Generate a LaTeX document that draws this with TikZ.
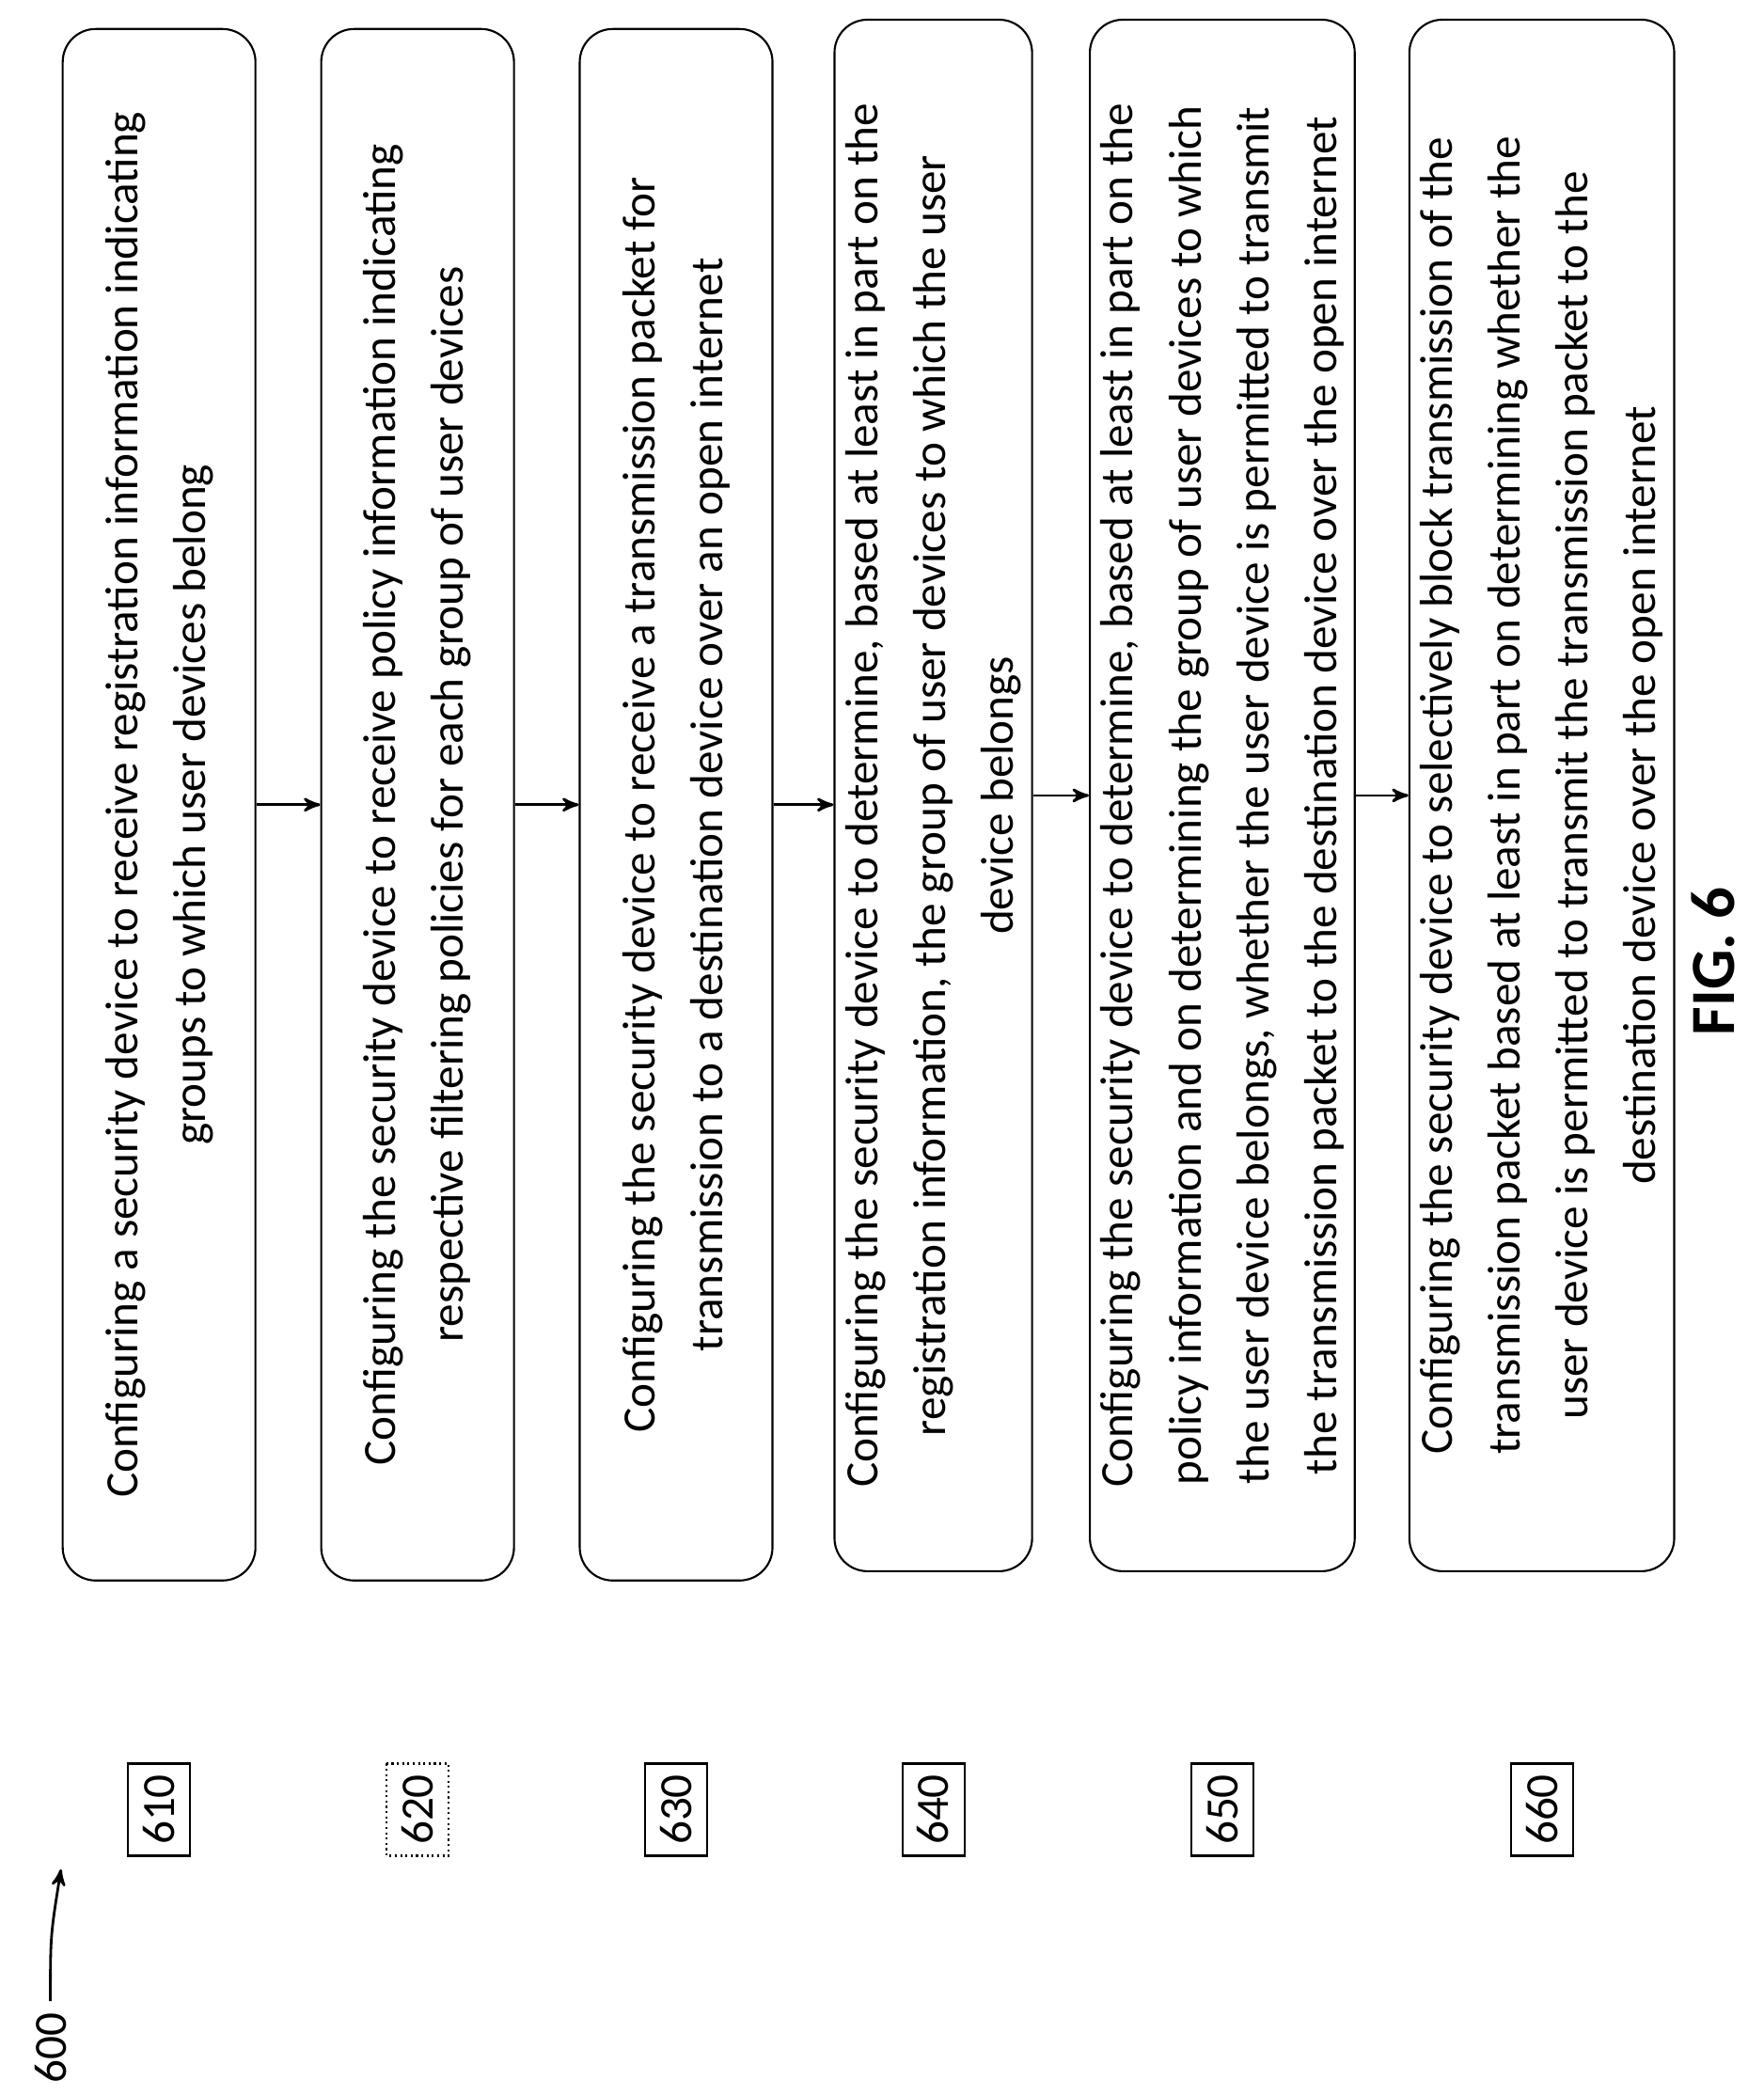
\documentclass[tikz,border=0pt]{standalone}
\usepackage{fontspec}
\setmainfont{Carlito}
\usetikzlibrary{arrows,positioning}

\begin{document}
\begin{tikzpicture}[x=0.0141cm,y=-0.0141cm,>=stealth',semithick]
      \tikzset{stepbox/.style={draw,rounded corners=10pt,rotate=90,align=center,
                 minimum width=16.5cm,font=\fontsize{14}{20.5}\selectfont},
               refbox/.style={draw,rotate=90,minimum width=0.98cm,minimum height=0.66cm,
                 inner sep=1pt,font=\fontsize{14}{16}\selectfont}}
      \useasboundingbox (0,0) rectangle (1330,1581);

      \node[stepbox,minimum height=2.05cm] (B1) at (120,607)
        {Configuring a security device to receive registration information indicating\\groups to which user devices belong};
      \node[stepbox,minimum height=2.05cm] (B2) at (315,607)
        {Configuring the security device to receive policy information indicating\\respective filtering policies for each group of user devices};
      \node[stepbox,minimum height=2.05cm] (B3) at (510,607)
        {Configuring the security device to receive a transmission packet for\\transmission to a destination device over an open internet};
      \node[stepbox,minimum height=2.08cm] (B4) at (704,600)
        {Configuring the security device to determine, based at least in part on the\\registration information, the group of user devices to which the user\\device belongs};
      \node[stepbox,minimum height=2.77cm] (B5) at (922,600)
        {Configuring the security device to determine, based at least in part on the\\policy information and on determining the group of user devices to which\\the user device belongs, whether the user device is permitted to transmit\\the transmission packet to the destination device over the open internet};
      \node[stepbox,minimum height=2.78cm] (B6) at (1163,600)
        {Configuring the security device to selectively block transmission of the\\transmission packet based at least in part on determining whether the\\user device is permitted to transmit the transmission packet to the\\destination device over the open internet};

      \node[refbox] (R1) at (120,1365) {610};
      \node[refbox,densely dotted] (R2) at (315,1365) {620};
      \node[refbox] (R3) at (510,1365) {630};
      \node[refbox] (R4) at (704,1365) {640};
      \node[refbox] (R5) at (922,1365) {650};
      \node[refbox] (R6) at (1163,1365) {660};

      \path[->,thick] (B1.south) edge (B1.south -| B2.north)
                (B2.south) edge (B2.south -| B3.north)
                (B3.south) edge (B3.south -| B4.north)
                (B4.south) edge (B4.south -| B5.north)
                (B5.south) edge (B5.south -| B6.north);

      \node[rotate=90,font=\fontsize{19}{22}\selectfont\bfseries] (FIG) at (1292,725) {FIG. 6};

      \node[rotate=90,font=\fontsize{14}{16}\selectfont] (N600) at (38,1545) {600};
      \coordinate (T600) at (46,1410);
      \draw[->,thick] (N600.east) .. controls (38,1460) .. (T600);
\end{tikzpicture}
\end{document}
